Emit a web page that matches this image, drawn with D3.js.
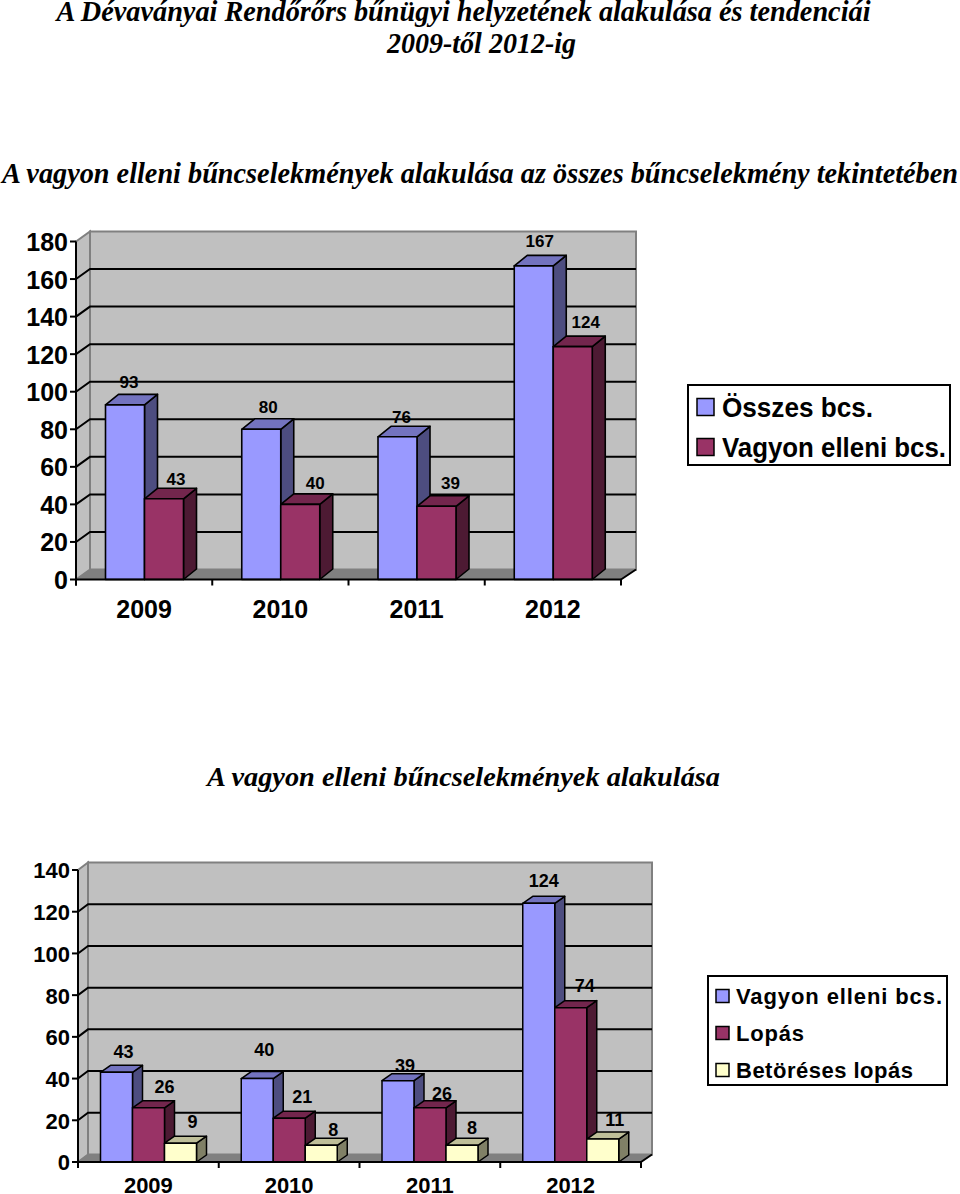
<!DOCTYPE html>
<html><head><meta charset="utf-8">
<script src="https://cdn.jsdelivr.net/npm/d3@7"></script>
<style>html,body{margin:0;padding:0;background:#fff}svg{display:block}</style>
</head><body><svg id="c" width="960" height="1194"></svg>
<script>
const years = ["2009","2010","2011","2012"];
const osszes = [93,80,76,167];
const vagyon = [43,40,39,124];
const lopas = [26,21,26,74];
const betores = [9,8,8,11];
const ticks1 = [0,20,40,60,80,100,120,140,160,180];
const ticks2 = [0,20,40,60,80,100,120,140];
const names1 = ["Összes bcs.","Vagyon elleni bcs."];
const names2 = ["Vagyon elleni bcs.","Lopás","Betöréses lopás"];
const colors = [{f:"#9999ff",t:"#7373bf",s:"#4d4d80"},{f:"#993366",t:"#73264d",s:"#4d1a33"},{f:"#ffffcc",t:"#bfbf99",s:"#808066"}];
const serif = "'Liberation Serif','Times New Roman',serif", sans = "'Liberation Sans',Arial,sans-serif";
const svg = d3.select("#c");

function txt(x,y,s,size,opt={}){
  return svg.append("text").attr("x",x).attr("y",y).text(s)
    .attr("font-family",opt.family||sans).attr("font-size",size)
    .attr("font-weight",opt.weight||"bold").attr("font-style",opt.style||"normal")
    .attr("text-anchor",opt.anchor||"middle").attr("fill","#000")
    .attr("textLength",opt.len||null).attr("lengthAdjust",opt.adjust||"spacingAndGlyphs");
}
const T={family:serif,weight:"bold",style:"italic"};
txt(463.5,21,"A Dévaványai Rendőrőrs bűnügyi helyzetének alakulása és tendenciái",29,{...T,len:814});
txt(481.5,53,"2009-től 2012-ig",29,{...T,len:189});
txt(480,183,"A vagyon elleni bűncselekmények alakulása az összes bűncselekmény tekintetében",29,{...T,len:956});
txt(463.5,786,"A vagyon elleni bűncselekmények alakulása",27,{...T,len:513});

function chart(c){
  const g = svg.append("g");
  const x = d3.scaleBand().domain(years).range([c.x0,c.x1]);
  const y = d3.scaleLinear().domain([0,c.max]).range([c.y0,c.yTop]);
  const dx=c.wdx, dy=c.wdy;
  const right=c.wallR;
  g.append("path").attr("d",`M${c.x0+dx},${c.yTop-dy}H${right}V${c.y0-dy}H${c.x0+dx}Z`).attr("fill","#c0c0c0").attr("stroke","#808080").attr("stroke-width",2);
  g.append("path").attr("d",`M${c.x0},${c.yTop}L${c.x0+dx},${c.yTop-dy}V${c.y0-dy}L${c.x0},${c.y0}Z`).attr("fill","#c0c0c0").attr("stroke","#808080").attr("stroke-width",2);
  g.append("path").attr("d",`M${c.x0},${c.y0}L${c.x0+dx},${c.y0-dy}H${right}L${c.x1},${c.y0}Z`).attr("fill","#808080");
  c.ticks.filter(t=>t>0&&t<c.max).forEach(t=>{
    g.append("path").attr("d",`M${c.x0},${y(t)}L${c.x0+dx},${y(t)-dy}H${right}`).attr("fill","none").attr("stroke","#000").attr("stroke-width",c.gridW);
  });
  c.series.forEach((vals,si)=>{
    vals.forEach((v,i)=>{
      const bx=x(years[i])+c.barOff+si*c.barW, by=y(v), w=c.barW, b=c.y0, col=colors[si];
      const bg=g.append("g").attr("stroke","#000").attr("stroke-width",c.barSW).attr("stroke-linejoin","round");
      bg.append("path").attr("d",`M${bx+w},${by}l${c.bdx},${-c.bdy}V${b-c.bdy}L${bx+w},${b}Z`).attr("fill",col.s);
      bg.append("path").attr("d",`M${bx},${by}l${c.bdx},${-c.bdy}h${w}l${-c.bdx},${c.bdy}Z`).attr("fill",col.t);
      bg.append("rect").attr("x",bx).attr("y",by).attr("width",w).attr("height",b-by).attr("fill",col.f);
    });
  });
  const ax=svg.append("g").attr("stroke","#000").attr("stroke-width",2).attr("fill","none");
  ax.append("path").attr("d",`M${c.x0},${c.yTop}V${c.y0+6}M${c.x0},${c.y0}H${c.x1}`);
  c.ticks.forEach(t=>ax.append("path").attr("d",`M${c.x0-6},${y(t)}H${c.x0}`));
  x.domain().forEach(d=>ax.append("path").attr("d",`M${x(d)},${c.y0}v6`));
  ax.append("path").attr("d",`M${c.x1},${c.y0}v6M${c.x1},${c.y0}L${right},${c.y0-dy}`);
  c.ticks.forEach(t=>txt(c.x0-8,y(t)+c.tickFs*0.38,t,c.tickFs,{anchor:"end"}));
  years.forEach(d=>txt(x(d)+x.bandwidth()/2+c.yearDx,c.yearY,d,c.yearFs));
  c.series.forEach((vals,si)=>vals.forEach((v,i)=>{
    const n=c.nudge[si][i];
    txt(x(years[i])+c.barOff+si*c.barW+c.barW/2+n[0],y(v)+n[1],v,c.labFs);
  }));
  const L=c.leg;
  svg.append("rect").attr("x",L.x).attr("y",L.y).attr("width",L.w).attr("height",L.h).attr("fill","#fff").attr("stroke","#000").attr("stroke-width",2);
  c.names.forEach((n,i)=>{
    const cy=L.cy[i];
    svg.append("rect").attr("x",L.sx).attr("y",cy-L.ss/2).attr("width",L.ss).attr("height",L.ss).attr("fill",colors[i].f).attr("stroke","#000").attr("stroke-width",1.5);
    txt(L.tx,cy+L.fs*0.36,n,L.fs,{anchor:"start",len:L.len[i],adjust:L.adjust});
  });
}
chart({x0:76,x1:621,y0:579.5,yTop:241.5,max:180,ticks:ticks1,wdx:14,wdy:10,wallR:636,gridW:2,
  series:[osszes,vagyon],barOff:29.5,barW:39,bdx:13,bdy:10.5,barSW:1.6,tickFs:25,yearFs:25,yearY:618,yearDx:0,labFs:17,
  nudge:[[[4,-17],[7,-16],[4,-14],[6,-19]],[[12,-14],[15,-15],[14,-17],[13,-19]]],
  names:names1,
  leg:{x:688,y:385,w:262,h:80,sx:697,ss:17,tx:722,fs:27,cy:[407,447],len:[151,224]}});
chart({x0:78,x1:641,y0:1162,yTop:870,max:140,ticks:ticks2,wdx:10,wdy:7.5,wallR:652,gridW:2,
  series:[vagyon,lopas,betores],barOff:22.5,barW:32,bdx:10,bdy:7,barSW:1.5,tickFs:22,yearFs:22,yearY:1193,yearDx:0,labFs:18,
  nudge:[[[7,-14],[7,-23],[7,-9],[5,-16]],[[16,-15],[13,-15],[12,-8],[14,-16]],[[12,-15],[12,-9],[10,-11],[12,-13]]],
  names:names2,
  leg:{x:708,y:976,w:239,h:109,sx:716,ss:13,tx:736,fs:22,cy:[996,1033,1070],len:[206,68,177],adjust:"spacing"}});
</script></body></html>
